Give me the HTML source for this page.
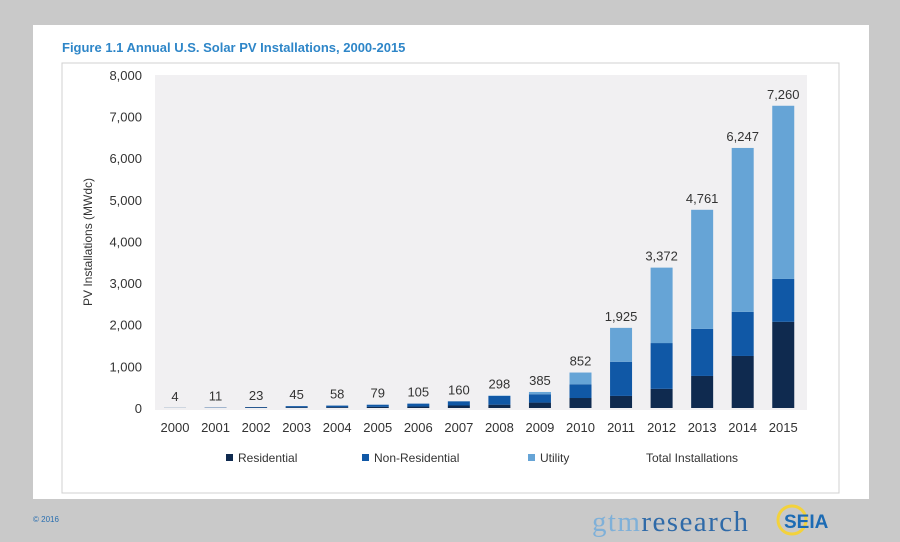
<!DOCTYPE html>
<html><head><meta charset="utf-8"><style>
body{margin:0;width:900px;height:542px;background:#c9c9c9;font-family:"Liberation Sans",sans-serif;overflow:hidden}
svg{position:absolute;left:0;top:0}
</style></head><body>
<svg width="900" height="542">
<rect x="33" y="25" width="836" height="474" fill="#fff"/>
<text x="62" y="52" font-size="13" font-weight="bold" fill="#2e86c8">Figure 1.1  Annual U.S. Solar PV Installations, 2000-2015</text>
<rect x="62" y="63" width="777" height="430" fill="none" stroke="#d0d0d0"/>
<rect x="155" y="75" width="652" height="335" fill="#f1f0f2"/>
<text transform="translate(92,242) rotate(-90)" text-anchor="middle" font-size="12" fill="#333">PV Installations (MWdc)</text>
<g id="yticks"></g><g id="bars"></g><g id="xlabels"></g>
<g font-size="12" fill="#333">
<rect x="226" y="454" width="7" height="7" fill="#0f2a4f"/><text x="238" y="462">Residential</text>
<rect x="362" y="454" width="7" height="7" fill="#1058a6"/><text x="374" y="462">Non-Residential</text>
<rect x="528" y="454" width="7" height="7" fill="#66a4d6"/><text x="540" y="462">Utility</text>
<text x="646" y="462">Total Installations</text>
</g>
<text x="33" y="522" font-size="8" fill="#2a6fb0">© 2016</text>
<text x="592" y="531" font-size="29" font-family="Liberation Serif,serif" fill="#2f6aa8" textLength="156"><tspan fill="#7fb0d8">gtm</tspan>research</text>
<circle cx="792" cy="520" r="14" fill="none" stroke="#f3d23c" stroke-width="3"/>
<text x="784" y="528" font-size="19" font-weight="bold" fill="#1c6bb4">SEIA</text>
</svg>
<script>
const years=["2000","2001","2002","2003","2004","2005","2006","2007","2008","2009","2010","2011","2012","2013","2014","2015"];
const residential=[2,5,10,15,20,28,35,60,80,130,240,290,460,770,1250,2070];
const nonResidential=[2,6,13,30,38,51,70,100,210,200,330,820,1100,1130,1060,1030];
const utility=[0,0,0,0,0,0,0,0,8,55,282,815,1812,2861,3937,4160];
const totals=[4,11,23,45,58,79,105,160,298,385,852,1925,3372,4761,6247,7260];
const yTicks=[0,1000,2000,3000,4000,5000,6000,7000,8000];
const colors=["#0f2a4f","#1058a6","#66a4d6"];
const NS="http://www.w3.org/2000/svg";
const y=v=>408-v*0.04163;
const x=i=>175+i*40.55;
function mk(t,a,p){const e=document.createElementNS(NS,t);for(const k in a)e.setAttribute(k,a[k]);p.appendChild(e);return e;}
const yg=document.getElementById('yticks');
yTicks.forEach(v=>{const t=mk('text',{x:142,y:y(v)+5,'text-anchor':'end','font-size':13,fill:'#333'},yg);


t.textContent=v.toLocaleString('en-US');});
const bg=document.getElementById('bars'),xg=document.getElementById('xlabels');
years.forEach((yr,i)=>{let base=0;[residential,nonResidential,utility].forEach((s,k)=>{const v=s[i];if(v>0){const r=mk('rect',{x:x(i)-11,y:y(base+v),width:22,height:y(base)-y(base+v),fill:colors[k]},bg);

}base+=v;});
const t=mk('text',{x:x(i),y:y(totals[i])-7,'text-anchor':'middle','font-size':13,fill:'#333'},bg);


t.textContent=totals[i].toLocaleString('en-US');
const l=mk('text',{x:x(i),y:432,'text-anchor':'middle','font-size':13,fill:'#333'},xg);


l.textContent=yr;});
</script>
</body></html>
